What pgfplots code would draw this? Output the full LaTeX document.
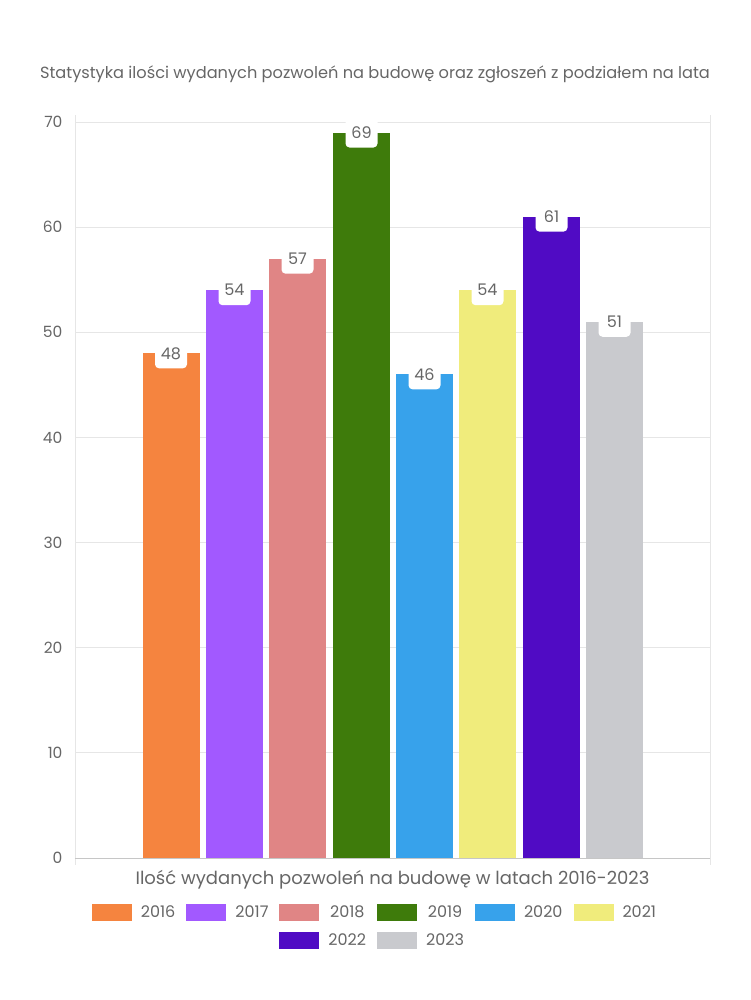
\documentclass[border=0pt]{standalone}
\usepackage{fontspec}
\setmainfont{Poppins}
\usepackage{pgfplots}
\pgfplotsset{compat=1.18}
\definecolor{c16}{HTML}{F5843F}
\definecolor{c17}{HTML}{A259FF}
\definecolor{c18}{HTML}{E08585}
\definecolor{c19}{HTML}{3E7B0B}
\definecolor{c20}{HTML}{37A2EB}
\definecolor{c21}{HTML}{F0EC7C}
\definecolor{c22}{HTML}{500BC4}
\definecolor{c23}{HTML}{C9CACE}
\definecolor{txt}{HTML}{666666}
\definecolor{gridc}{HTML}{E6E6E6}
\begin{document}
\begin{tikzpicture}
\begin{axis}[
  scale only axis, width=635pt, height=736pt,
  xmin=0, xmax=635, ymin=0, ymax=70,
  ytick={0,10,...,70},
  xtick={0,635}, xticklabels={,},
  ymajorgrids, grid style={draw=gridc, line width=0.8pt},
  axis line style={draw=gridc, line width=0.8pt},
  ytick style={draw=none},
  xtick style={draw=gridc, line width=0.8pt},
  tick align=outside, major tick length=7pt,
  /pgf/number format/assume math mode=true,
  tick label style={font=\fontsize{15.5}{18}\selectfont, text=txt},
  yticklabel style={xshift=-2pt},
  title={Statystyka ilości wydanych pozwoleń na budowę oraz zgłoszeń z podziałem na lata},
  title style={at={(0.4724,1.057)}, anchor=center, font=\fontsize{16.2}{19}\selectfont, text=txt},
  xlabel={Ilość wydanych pozwoleń na budowę w latach 2016-2023},
  xlabel style={at={(axis description cs:0.5,-0.0299)}, anchor=center, font=\fontsize{18}{21}\selectfont, text=txt},
  ybar, bar width=57, bar shift=0pt,
  nodes near coords,
  every node near coord/.append style={anchor=center, fill=white, rounded corners=4pt, minimum width=32pt, minimum height=30pt, inner sep=1pt, text=txt, font=\fontsize{16}{19}\selectfont},
  legend style={at={(0.4724,-0.0596)}, anchor=north, draw=none, fill=none, font=\fontsize{16}{19}\selectfont, text=txt,
    /tikz/every even column/.append style={column sep=9pt},
    /tikz/every odd column/.append style={column sep=7pt}, row sep=10pt},
  legend columns=6,
  legend image code/.code={\fill[#1] (0pt,-8.5pt) rectangle (40pt,8.5pt);},
  clip=false,
]
\addplot[fill=c16, draw=none] coordinates {(96,48)}; \addlegendentry{2016}
\addplot[fill=c17, draw=none] coordinates {(159.5,54)}; \addlegendentry{2017}
\addplot[fill=c18, draw=none] coordinates {(222.5,57)}; \addlegendentry{2018}
\addplot[fill=c19, draw=none] coordinates {(286.5,69)}; \addlegendentry{2019}
\addplot[fill=c20, draw=none] coordinates {(349.5,46)}; \addlegendentry{2020}
\addplot[fill=c21, draw=none] coordinates {(412.5,54)}; \addlegendentry{2021}
\addlegendimage{empty legend}\addlegendentry{}
\addlegendimage{empty legend}\addlegendentry{}
\addplot[fill=c22, draw=none] coordinates {(476.5,61)}; \addlegendentry{2022}
\addplot[fill=c23, draw=none] coordinates {(539.5,51)}; \addlegendentry{2023}
\draw[draw=gray!45, line width=0.8pt] (axis cs:0,0) -- (axis cs:635,0);
\coordinate (O) at (rel axis cs:0,0);
\end{axis}
\pgfresetboundingbox
\path[use as bounding box] (O) ++(-75pt,-142pt) rectangle ++(750pt,1000pt);
\end{tikzpicture}
\end{document}
